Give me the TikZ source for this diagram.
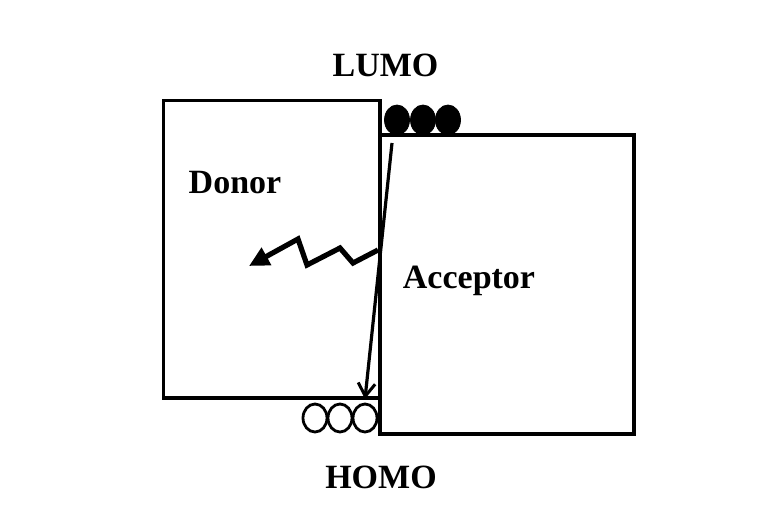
\documentclass[tikz,border=0pt]{standalone}
\usepackage{fontspec}
\setmainfont{Liberation Serif}
\usetikzlibrary{arrows.meta}
\begin{document}
\begin{tikzpicture}[x=1pt,y=-1pt,
  boxst/.style={draw,line width=3.4pt,inner sep=0pt,outer sep=0pt},
  lbl/.style={font=\fontsize{34}{40}\selectfont\bfseries,inner sep=0pt,anchor=base},
  fullmol/.style={fill=black,draw=black,line width=0.8pt},
  emptymol/.style={draw=black,line width=2.8pt},
  transfer/.style={line width=3.2pt,-{Straight Barb[length=13pt,width=17pt,line width=3pt]}},
  light/.style={line width=5.2pt,line join=miter,-{Triangle[length=20pt,width=19pt]}}]
\useasboundingbox (0,0) rectangle (778,524);
% boxes
\node[boxst,minimum width=216.5pt,minimum height=297.5pt] (donor) at (271.75,249.25) {};
\node[boxst,minimum width=254pt,minimum height=299pt] (acceptor) at (507,284.5) {};
% labels
\node[lbl] (lumo) at (385.5,77) {LUMO};
\node[lbl] (homo) at (381,488) {HOMO};
\node[lbl] (dlab) at (235,193) {Donor};
\node[lbl] (alab) at (469,288) {Acceptor};
% electrons at LUMO
\foreach \i/\x in {1/397,2/423,3/448}{
  \draw[fullmol] (\x,120) ellipse [x radius=12.5, y radius=15];
}
% holes at HOMO
\foreach \i/\x in {1/315,2/340,3/365}{
  \draw[emptymol] (\x,418) ellipse [x radius=12, y radius=14];
}
% charge transfer arrow
\coordinate (ts) at (392,143);
\coordinate (te) at (365,399);
\draw[transfer] (ts) -- (te);
% light/energy arrow
\coordinate (zs) at (378,250);
\coordinate (ze) at (249,266);
\draw[light] (zs) -- (353,263) -- (340,248) -- (307,265) -- (298,239) -- (ze);
\end{tikzpicture}
\end{document}
